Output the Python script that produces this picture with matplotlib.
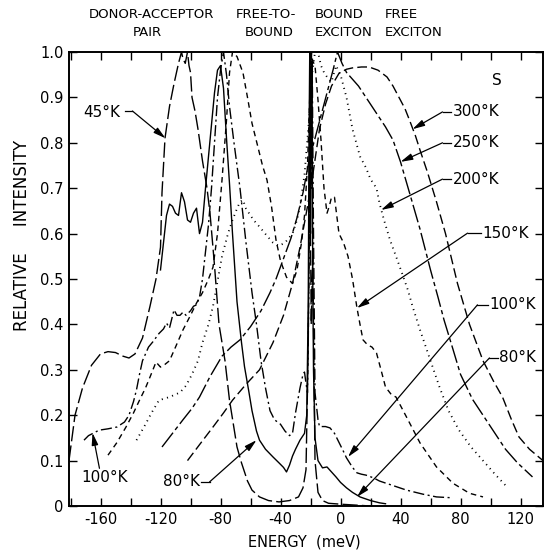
import matplotlib
matplotlib.use("Agg")
import matplotlib.pyplot as plt

plt.rcParams["font.family"] = "DejaVu Sans"
plt.rcParams["axes.unicode_minus"] = False

# --- data (energy in meV, relative intensity) ---
e_45 = [-181, -177, -172, -166, -160, -155, -150, -145, -141, -137, -132, -127, -123, -120, -119, -117,
        -114, -111, -108, -106, -105, -103.5, -102, -101, -100, -99, -97, -95, -92, -89, -87, -84, -81,
        -77, -74, -69, -66, -62, -59, -54, -48, -41, -34, -28, -25, -23, -21.5, -20.5, -19.5, -18.5,
        -17, -15, -12, -8, 0, 10, 20]
i_45 = [0.10, 0.20, 0.26, 0.31, 0.335, 0.34, 0.338, 0.33, 0.326, 0.335, 0.37, 0.44, 0.50, 0.57, 0.69,
        0.81, 0.88, 0.93, 0.975, 1.0, 0.985, 0.975, 1.0, 0.97, 0.955, 0.90, 0.87, 0.83, 0.76, 0.70,
        0.645, 0.53, 0.40, 0.32, 0.233, 0.13, 0.095, 0.055, 0.035, 0.02, 0.012, 0.009, 0.012, 0.02,
        0.04, 0.08, 0.35, 0.8, 0.4, 0.55, 0.1, 0.03, 0.012, 0.006, 0.004, 0.002, 0.0]

e_80 = [-120, -118, -116, -114, -112, -110, -108, -106, -104, -102, -100, -98, -96, -94, -92, -90, -88,
        -86, -84, -82, -80, -78, -76, -74, -72, -69, -66, -64, -61, -59, -56, -54, -50, -45, -41, -38,
        -36, -34, -32, -30, -27, -24, -22.5, -21.5, -21, -20.5, -20, -19.5, -19, -18.5, -18, -17, -15,
        -12, -9, -6, -3, 0, 4, 8, 13, 20, 26, 30]
i_80 = [0.52, 0.58, 0.64, 0.665, 0.66, 0.645, 0.64, 0.69, 0.67, 0.63, 0.625, 0.645, 0.656, 0.60, 0.625,
        0.70, 0.77, 0.84, 0.91, 0.96, 0.97, 0.92, 0.81, 0.71, 0.60, 0.45, 0.36, 0.307, 0.25, 0.21,
        0.165, 0.145, 0.125, 0.108, 0.095, 0.085, 0.075, 0.09, 0.11, 0.125, 0.145, 0.16, 0.2, 0.45,
        0.8, 1.0, 0.6, 0.9, 0.98, 0.5, 0.3, 0.15, 0.10, 0.084, 0.086, 0.075, 0.064, 0.052, 0.04, 0.03,
        0.02, 0.012, 0.007, 0.005]

e_100 = [-171, -168, -165, -161, -155, -149, -144, -141, -138, -136, -134, -132, -128, -125, -121, -118,
         -116, -114, -111, -109, -107, -105, -103, -100, -98, -96, -94, -92, -90, -88, -86, -84, -82,
         -80, -78, -76, -74, -71, -67, -63, -59, -56, -53, -50, -47, -44, -40, -37, -34, -32, -30, -27,
         -25, -24, -23, -22, -21, -20.3, -19.5, -18.8, -18, -17, -15, -14, -10, -7, -4, -1, 2, 4, 8,
         11, 14, 17, 22, 26, 35, 44, 55, 64, 75]
i_100 = [0.145, 0.155, 0.16, 0.167, 0.17, 0.174, 0.185, 0.20, 0.23, 0.256, 0.29, 0.32, 0.35, 0.362,
         0.38, 0.39, 0.403, 0.392, 0.432, 0.42, 0.42, 0.427, 0.42, 0.43, 0.44, 0.443, 0.46, 0.50, 0.56,
         0.62, 0.70, 0.80, 0.90, 0.96, 1.0, 0.95, 0.88, 0.80, 0.70, 0.58, 0.47, 0.40, 0.32, 0.26, 0.21,
         0.19, 0.18, 0.165, 0.155, 0.16, 0.205, 0.26, 0.29, 0.295, 0.27, 0.25, 0.5, 1.0, 0.7, 0.95,
         0.6, 0.25, 0.19, 0.175, 0.175, 0.172, 0.16, 0.14, 0.12, 0.106, 0.085, 0.073, 0.07, 0.068,
         0.062, 0.055, 0.045, 0.035, 0.026, 0.02, 0.018]

e_150 = [-155, -149, -143, -138, -134, -130, -127, -123, -120, -117, -114, -110, -105, -100, -96, -92,
         -88, -85, -82, -79, -76, -74, -72, -69, -65, -62, -59, -55, -52, -49, -46, -43, -40, -36, -32,
         -29, -26, -24, -22, -20.5, -19.5, -18.5, -17, -15, -13, -11, -9, -7.5, -6, -4, -1, 2, 5, 8,
         11, 13, 15, 18, 21, 24, 27, 30, 34, 37, 44, 53, 64, 75, 86, 95]
i_150 = [0.112, 0.14, 0.174, 0.205, 0.233, 0.26, 0.284, 0.317, 0.306, 0.312, 0.32, 0.35, 0.388, 0.42,
         0.447, 0.47, 0.50, 0.526, 0.60, 0.718, 0.85, 0.954, 1.0, 0.99, 0.954, 0.90, 0.843, 0.79, 0.75,
         0.718, 0.66, 0.586, 0.54, 0.504, 0.49, 0.52, 0.58, 0.64, 0.75, 0.90, 1.0, 0.98, 0.97, 0.894,
         0.806, 0.70, 0.645, 0.66, 0.68, 0.68, 0.60, 0.58, 0.55, 0.50, 0.436, 0.40, 0.366, 0.355, 0.35,
         0.337, 0.30, 0.262, 0.245, 0.24, 0.196, 0.139, 0.086, 0.05, 0.028, 0.02]

e_200 = [-136, -130, -126, -121, -114, -107, -103, -99, -95, -92, -88, -85, -83, -79, -75, -72, -69,
         -67, -65, -63, -58, -54, -49, -45, -41, -37, -32, -29, -27, -24, -21, -19, -17, -15, -13, -11,
         -9, -6, -3, 0, 4, 8, 13, 17, 20, 24, 26, 29, 33, 37, 41, 45, 48, 53, 60, 66, 72, 79, 87, 95,
         103, 111]
i_200 = [0.145, 0.18, 0.205, 0.233, 0.24, 0.25, 0.265, 0.29, 0.32, 0.36, 0.40, 0.44, 0.476, 0.55, 0.60,
         0.63, 0.655, 0.67, 0.674, 0.655, 0.63, 0.615, 0.595, 0.58, 0.573, 0.58, 0.60, 0.63, 0.66,
         0.73, 0.85, 0.95, 1.0, 1.0, 0.97, 0.955, 0.945, 0.934, 0.97, 0.95, 0.90, 0.83, 0.77, 0.745,
         0.72, 0.70, 0.667, 0.63, 0.586, 0.55, 0.513, 0.475, 0.44, 0.388, 0.32, 0.262, 0.21, 0.167,
         0.13, 0.10, 0.07, 0.042]

e_250 = [-119, -112, -105, -99, -94, -87, -79, -73, -67, -60, -53, -47, -43, -38, -33, -29, -25, -21,
         -17, -13, -9, -5, -2, 1, 4, 8, 12, 16, 20, 24, 30, 35, 40, 46, 53, 60, 65, 69, 75, 80, 88, 97,
         104, 110, 118, 128]
i_250 = [0.13, 0.16, 0.19, 0.215, 0.24, 0.285, 0.33, 0.35, 0.366, 0.395, 0.43, 0.47, 0.50, 0.545, 0.59,
         0.635, 0.69, 0.76, 0.81, 0.86, 0.91, 0.96, 1.0, 0.975, 0.955, 0.94, 0.925, 0.905, 0.885,
         0.865, 0.835, 0.806, 0.758, 0.69, 0.61, 0.52, 0.46, 0.41, 0.345, 0.29, 0.235, 0.19, 0.155,
         0.125, 0.095, 0.064]

e_300 = [-102, -94, -85, -78, -72, -63, -54, -45, -38, -32, -27, -22, -18, -14, -10, -6, -1, 4, 8, 14,
         19, 25, 31, 35, 39, 43, 46, 50, 53, 58, 64, 70, 78, 86, 95, 102, 108, 114, 119, 126, 135]
i_300 = [0.10, 0.135, 0.174, 0.205, 0.233, 0.268, 0.30, 0.36, 0.42, 0.49, 0.57, 0.66, 0.74, 0.83,
         0.885, 0.925, 0.953, 0.962, 0.965, 0.967, 0.967, 0.96, 0.945, 0.925, 0.90, 0.875, 0.85, 0.815,
         0.784, 0.735, 0.67, 0.60, 0.49, 0.40, 0.32, 0.275, 0.24, 0.19, 0.152, 0.125, 0.10]

x_ticks = [-160, -120, -80, -40, 0, 40, 80, 120]
x_ticklabels = ["-160", "-120", "-80", "-40", "0", "40", "80", "120"]
y_ticks = [0, 0.1, 0.2, 0.3, 0.4, 0.5, 0.6, 0.7, 0.8, 0.9, 1.0]
y_ticklabels = ["0", "0.1", "0.2", "0.3", "0.4", "0.5", "0.6", "0.7", "0.8", "0.9", "1.0"]

fig = plt.figure(figsize=(5.44, 5.54), dpi=100)
ax = fig.add_axes([69 / 544, 1 - 506 / 554, 474 / 544, 454 / 554])

lw = 1.0
ax.plot(e_45, i_45, color="k", lw=lw, dashes=(11, 3))
ax.plot(e_80, i_80, color="k", lw=lw)
ax.plot(e_100, i_100, color="k", lw=lw, dashes=(8, 2.5, 1.5, 2.5))
ax.plot(e_150, i_150, color="k", lw=lw, dashes=(4, 3))
ax.plot(e_200, i_200, color="k", lw=1.3, dashes=(0.6, 2.4))
ax.plot(e_250, i_250, color="k", lw=lw, dashes=(13, 2.5, 3, 2.5))
ax.plot(e_300, i_300, color="k", lw=lw, dashes=(7, 3))

ax.set_xlim(-181, 135)
ax.set_ylim(0, 1.0)
ax.set_xticks(x_ticks, labels=x_ticklabels)
ax.set_xticks(range(-180, 136, 20), minor=True)
ax.set_yticks(y_ticks, labels=y_ticklabels)
ax.tick_params(which="both", direction="in", length=6, width=1.0,
               top=True, right=True, labelsize=10.5, pad=4)
for sp in ax.spines.values():
    sp.set_linewidth(1.4)

arrow = dict(arrowstyle="-|>,head_length=0.6,head_width=0.16", color="k", lw=0.9,
             shrinkA=0, shrinkB=0, mutation_scale=12)


def tag(txt, tx, ty, knee, tip):
    # label text, short horizontal lead, then an arrow to the curve
    ax.text(tx, ty, txt, fontsize=11, ha="left", va="center")
    ax.plot([knee, tx - 0.8], [ty, ty], color="k", lw=0.9)
    ax.annotate("", xy=tip, xytext=(knee, ty), arrowprops=arrow)


tag("300°K", 74.7, 0.868, 68, (48, 0.83))
tag("250°K", 74.7, 0.800, 68, (40, 0.758))
tag("200°K", 74.7, 0.720, 68, (27, 0.652))
tag("150°K", 94.7, 0.601, 84.7, (11, 0.436))
tag("100°K", 99.3, 0.443, 91.3, (5, 0.108))
tag("80°K", 106, 0.326, 99.3, (11, 0.02))

ax.text(-171.3, 0.866, "45°K", fontsize=11, ha="left", va="center")
ax.plot([-144, -138.7], [0.87, 0.87], color="k", lw=0.9)
ax.annotate("", xy=(-116.7, 0.81), xytext=(-138.7, 0.87), arrowprops=arrow)

ax.text(-172.7, 0.062, "100°K", fontsize=11, ha="left", va="center")
ax.annotate("", xy=(-165.3, 0.161), xytext=(-160.7, 0.083), arrowprops=arrow)

ax.text(-118, 0.053, "80°K", fontsize=11, ha="left", va="center")
ax.plot([-92.7, -87.3], [0.053, 0.053], color="k", lw=0.9)
ax.annotate("", xy=(-56, 0.145), xytext=(-87.3, 0.053), arrowprops=arrow)

ax.text(104, 0.938, "S", fontsize=11, ha="center", va="center")

# band labels above the frame
top1, top2 = 1 - 15 / 554, 1 - 32 / 554
fig.text(151 / 544, top1, "DONOR-ACCEPTOR", fontsize=9.5, ha="center", va="center")
fig.text(147 / 544, top2, "PAIR", fontsize=9.5, ha="center", va="center")
fig.text(266 / 544, top1, "FREE-TO-", fontsize=9.5, ha="center", va="center")
fig.text(269 / 544, top2, "BOUND", fontsize=9.5, ha="center", va="center")
fig.text(315 / 544, top1, "BOUND", fontsize=9.5, ha="left", va="center")
fig.text(315 / 544, top2, "EXCITON", fontsize=9.5, ha="left", va="center")
fig.text(385 / 544, top1, "FREE", fontsize=9.5, ha="left", va="center")
fig.text(385 / 544, top2, "EXCITON", fontsize=9.5, ha="left", va="center")

fig.text(22 / 544, 1 - 235 / 554, "RELATIVE     INTENSITY", fontsize=12, rotation=90,
         ha="center", va="center")
fig.text(304 / 544, 1 - 542 / 554, "ENERGY  (meV)", fontsize=10.5, ha="center", va="center")

fig.savefig("out.png", dpi=100)
